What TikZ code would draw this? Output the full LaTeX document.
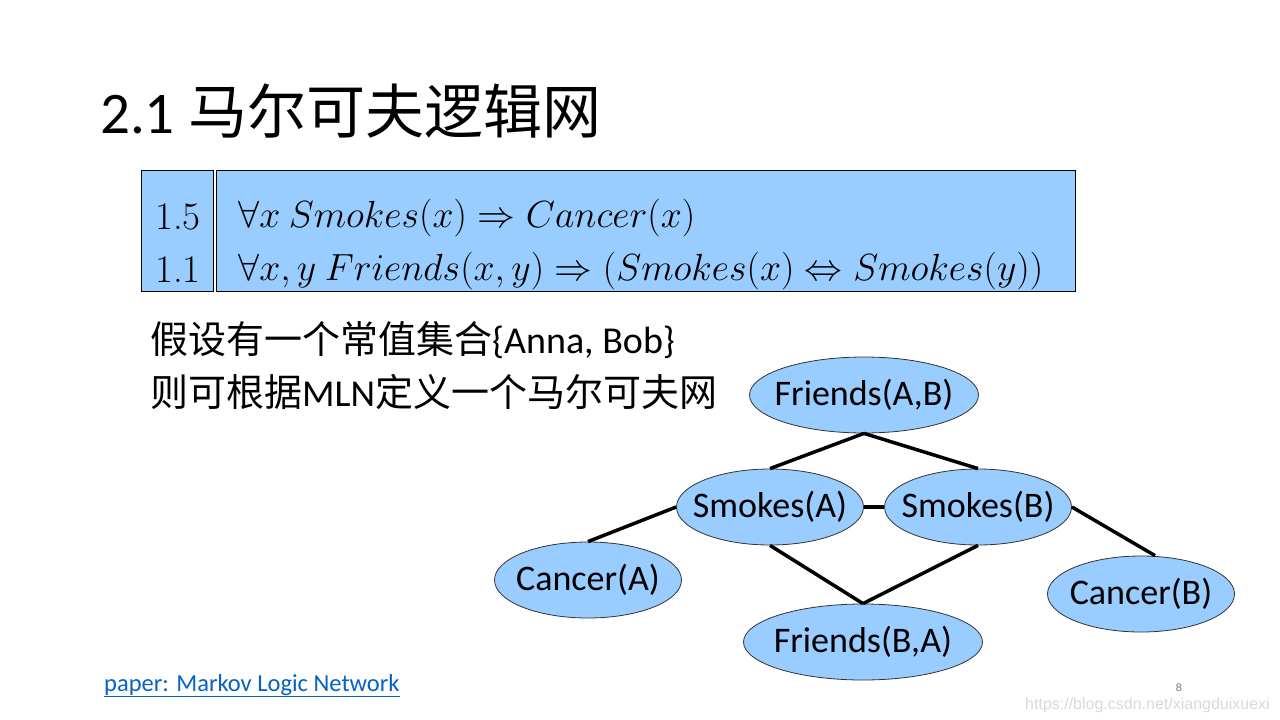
\documentclass[tikz,border=0pt]{standalone}
\usepackage{fontspec}
\setmainfont{Carlito}
\newfontfamily\cjk{Noto Sans CJK SC}
\newfontfamily\wmfont{Liberation Sans}
\newfontfamily\lmfont{Latin Modern Roman}
\usetikzlibrary{shapes.geometric}
\definecolor{atomblue}{HTML}{99CCFF}
\definecolor{linkblue}{HTML}{0563C1}

\begin{document}
\begin{tikzpicture}[x=1pt,y=-1pt,
    atom/.style={ellipse,draw=black!80,fill=atomblue,line width=0.8pt,inner xsep=-45pt,inner ysep=0pt,
      minimum height=76pt,font=\fontsize{36}{40}\selectfont},
    tie/.style={line width=3.5pt},
    panel/.style={draw,fill=atomblue,line width=1pt,anchor=north west,inner sep=0pt,minimum height=121pt},
    formula/.style={anchor=base west,inner sep=0pt,scale=1.52,transform shape,font=\fontsize{24.88}{28}\selectfont}]
\useasboundingbox[fill=white] (0,0) rectangle (1280,720);

% title
\node[anchor=base west,inner sep=0] (title) at (100,133)
  {\fontsize{59}{62}\selectfont 2.1 {\cjk 马尔可夫逻辑网}};

% weights and formulas
\node[panel,minimum width=72pt] (wbox) at (141,170) {};
\node[panel,minimum width=859pt] (fbox) at (216,170) {};
\node[anchor=base,inner sep=0] (w1) at (178,229) {\fontsize{39}{42}\selectfont\lmfont 1.5};
\node[anchor=base,inner sep=0] (w2) at (178,282) {\fontsize{39}{42}\selectfont\lmfont 1.1};
\node[formula] (f1) at (238,227) {$\forall x\ Smokes(x)\Rightarrow Cancer(x)$};
\node[formula] (f2) at (238,280) {$\forall x,y\ Friends(x,y)\Rightarrow (Smokes(x)\Leftrightarrow Smokes(y))$};

% text
\node[anchor=base west,inner sep=0] (l1) at (150,353)
  {\fontsize{38}{41}\selectfont{\cjk 假设有一个常值集合}\{Anna, Bob\}};
\node[anchor=base west,inner sep=0] (l2) at (150,406)
  {\fontsize{38}{41}\selectfont{\cjk 则可根据}MLN{\cjk 定义一个马尔可夫网}};

% ground network
\node[atom,minimum width=229pt] (fab) at (864,395) {Friends(A,B)};
\node[atom,minimum width=187pt] (sa) at (770,507) {Smokes(A)};
\node[atom,minimum width=187pt] (sb) at (978,507) {Smokes(B)};
\node[atom,minimum width=187pt] (ca) at (588,580) {Cancer(A)};
\node[atom,minimum width=239pt] (fba) at (863,642) {Friends(B,A)};
\node[atom,minimum width=187pt] (cb) at (1141,594) {Cancer(B)};

\draw[tie] (fab.south) -- (sa.north);
\draw[tie] (fab.south) -- (sb.north);
\draw[tie] (sa.west) -- (ca.north);
\draw[tie] (sa.east) -- (sb.west);
\draw[tie] (sa.south) -- (fba.north);
\draw[tie] (sb.south) -- (fba.north);
\draw[tie] (sb.east) -- ([xshift=14pt]cb.north);

% footer
\node[anchor=base west,inner sep=0,text=linkblue] (link) at (104,691)
  {\fontsize{24.5}{28}\selectfont\underline{paper: Markov Logic Network}};
\node[anchor=base,inner sep=0,text=black!55] (page) at (1179,691) {\fontsize{11}{12}\selectfont\wmfont 8};
\node[anchor=base east,inner sep=0,text=black!15] (wm) at (1270,709)
  {\fontsize{16}{18}\selectfont\wmfont https://blog.csdn.net/xiangduixuexi};
\end{tikzpicture}
\end{document}
